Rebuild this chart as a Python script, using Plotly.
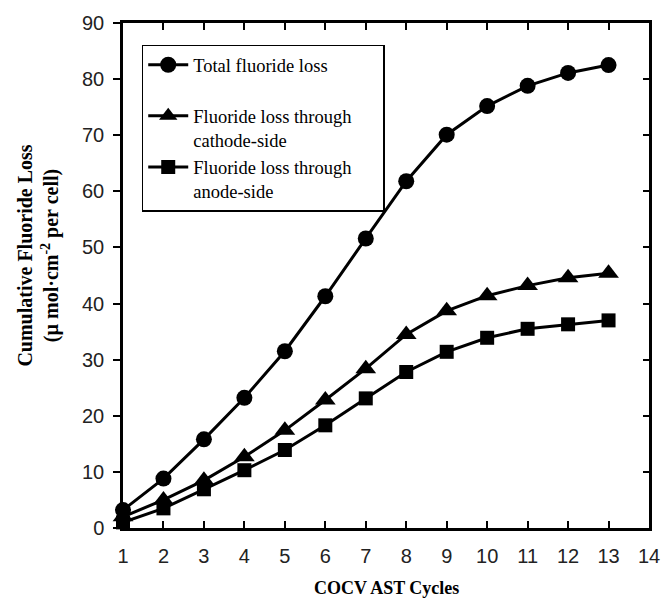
import plotly.graph_objects as go

cycles = [1, 2, 3, 4, 5, 6, 7, 8, 9, 10, 11, 12, 13]
total_loss = [3.2, 8.8, 15.8, 23.2, 31.5, 41.3, 51.6, 61.8, 70.1, 75.2, 78.8, 81.1, 82.5]
cathode_loss = [2.0, 5.0, 8.5, 12.7, 17.4, 22.8, 28.4, 34.5, 38.7, 41.4, 43.2, 44.6, 45.4]
anode_loss = [1.0, 3.5, 6.9, 10.3, 13.9, 18.3, 23.1, 27.8, 31.4, 33.9, 35.5, 36.3, 37.0]

series_names = [
    "Total fluoride loss<br>" + "&nbsp;" * 40,
    "Fluoride loss through<br>cathode-side",
    "Fluoride loss through<br>anode-side",
]
x_ticks = list(range(1, 15))
y_ticks = list(range(0, 91, 10))

serif = "Liberation Serif, Times New Roman, serif"
sans = "Liberation Sans, Arial, sans-serif"

fig = go.Figure()
specs = [
    (total_loss, series_names[0], "circle", 16),
    (cathode_loss, series_names[1], "triangle-up", 18),
    (anode_loss, series_names[2], "square", 14),
]
for vals, name, sym, size in specs:
    fig.add_trace(go.Scatter(
        x=cycles, y=vals, name=name, mode="lines+markers",
        line=dict(color="black", width=3),
        marker=dict(symbol=sym, size=size, color="black"),
        cliponaxis=False,
    ))

# invisible trace on right-side axis to draw inward ticks
fig.add_trace(go.Scatter(x=[1], y=[0], yaxis="y2", showlegend=False,
                         mode="markers", marker=dict(opacity=0), hoverinfo="skip"))

fig.update_layout(
    width=672, height=601,
    margin=dict(l=123, r=15, t=22, b=73),
    plot_bgcolor="white", paper_bgcolor="white",
    showlegend=True,
    legend=dict(
        x=0.0356, y=0.957, xanchor="left", yanchor="top",
        bgcolor="rgba(255,255,255,0)", bordercolor="black", borderwidth=1.5,
        font=dict(family=serif, size=18.5, color="black"),
        itemwidth=40, valign="top", tracegroupgap=0,
    ),
    xaxis=dict(
        range=[1, 14], tickmode="array", tickvals=x_ticks,
        ticks="inside", ticklen=7, tickwidth=2, tickcolor="black",
        showline=True, linecolor="black", linewidth=2.5, mirror="ticks",
        showgrid=False, zeroline=False,
        tickfont=dict(family=sans, size=20, color="#222"),
        ticklabelstandoff=8,
    ),
    yaxis=dict(
        range=[0, 90], tickmode="array", tickvals=y_ticks,
        ticks="outside", ticklen=7, tickwidth=2, tickcolor="black",
        showline=True, linecolor="black", linewidth=2.5, mirror=True,
        showgrid=False, zeroline=False,
        tickfont=dict(family=sans, size=20, color="#222"),
        ticklabelstandoff=5,
    ),
    yaxis2=dict(
        range=[0, 90], tickmode="array", tickvals=y_ticks,
        overlaying="y", side="right",
        ticks="inside", ticklen=6, tickwidth=2, tickcolor="black",
        showticklabels=False, showgrid=False, zeroline=False, showline=False,
    ),
    annotations=[
        dict(
            text="<b>Cumulative Fluoride Loss<br>(µ mol·cm<sup>-2</sup> per cell)</b>",
            xref="paper", yref="paper", x=-0.161, y=0.54,
            xanchor="center", yanchor="middle", textangle=-90, showarrow=False,
            font=dict(family=serif, size=20, color="black"),
        ),
        dict(
            text="<b>COCV AST Cycles</b>",
            xref="paper", yref="paper", x=0.5, y=-0.118,
            xanchor="center", yanchor="middle", showarrow=False,
            font=dict(family=serif, size=18, color="black"),
        ),
    ],
)

fig.write_html("out.html")
